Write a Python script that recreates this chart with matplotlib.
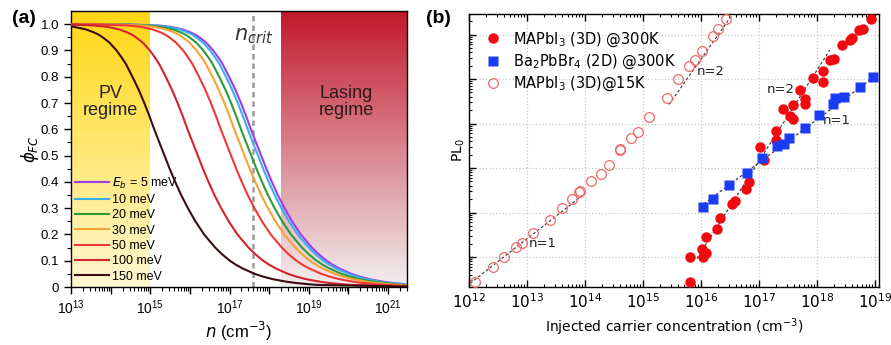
import matplotlib.pyplot as plt
import numpy as np
from matplotlib.colors import to_rgb
from matplotlib.ticker import FixedLocator, FuncFormatter, LogLocator, NullFormatter

plt.rcParams['font.family'] = ['Liberation Sans', 'DejaVu Sans']
plt.rcParams['mathtext.fontset'] = 'dejavusans'

# ---- panel (a): free carrier fraction vs n ----
phi_levels = [0.9995, 0.999, 0.995, 0.99, 0.98, 0.97, 0.96, 0.95, 0.93, 0.90, 0.875, 0.85, 0.80,
              0.75, 0.70, 0.65, 0.60, 0.55, 0.50, 0.45, 0.40, 0.35, 0.30, 0.25, 0.20, 0.15,
              0.125, 0.10, 0.085, 0.07, 0.05, 0.04, 0.03, 0.02, 0.015, 0.01, 0.008]
# log10(n) of each curve at the phi levels above
logn_5 = [14.20, 14.50, 15.20, 15.51, 15.82, 16.00, 16.14, 16.24, 16.41, 16.59, 16.71, 16.82, 16.99,
          17.15, 17.29, 17.42, 17.54, 17.67, 17.80, 17.93, 18.07, 18.22, 18.39, 18.58, 18.80, 19.08,
          19.25, 19.45, 19.60, 19.78, 20.08, 20.28, 20.53, 20.89, 21.14, 21.49, 21.69]
logn_10 = [14.12, 14.42, 15.12, 15.43, 15.74, 15.92, 16.06, 16.16, 16.33, 16.51, 16.63, 16.74, 16.91,
           17.07, 17.21, 17.34, 17.46, 17.59, 17.72, 17.85, 17.99, 18.14, 18.31, 18.50, 18.72, 19.00,
           19.17, 19.37, 19.52, 19.70, 20.00, 20.20, 20.45, 20.81, 21.06, 21.41, 21.61]
logn_20 = [13.95, 14.25, 14.95, 15.26, 15.57, 15.75, 15.89, 15.99, 16.16, 16.34, 16.46, 16.57, 16.74,
           16.90, 17.04, 17.17, 17.29, 17.42, 17.55, 17.68, 17.82, 17.97, 18.14, 18.33, 18.55, 18.83,
           19.00, 19.20, 19.35, 19.53, 19.83, 20.03, 20.28, 20.64, 20.89, 21.24, 21.44]
logn_30 = [13.78, 14.08, 14.78, 15.09, 15.40, 15.58, 15.72, 15.82, 15.99, 16.17, 16.29, 16.40, 16.57,
           16.73, 16.87, 17.00, 17.12, 17.25, 17.38, 17.51, 17.65, 17.80, 17.97, 18.16, 18.38, 18.66,
           18.83, 19.03, 19.18, 19.36, 19.66, 19.86, 20.11, 20.47, 20.72, 21.07, 21.27]
logn_50 = [13.44, 13.74, 14.44, 14.75, 15.06, 15.24, 15.38, 15.48, 15.65, 15.83, 15.95, 16.06, 16.23,
           16.39, 16.53, 16.66, 16.78, 16.91, 17.04, 17.17, 17.31, 17.46, 17.63, 17.82, 18.04, 18.32,
           18.49, 18.69, 18.84, 19.02, 19.32, 19.52, 19.77, 20.13, 20.38, 20.73, 20.93]
logn_100 = [12.60, 12.90, 13.60, 13.91, 14.22, 14.40, 14.54, 14.64, 14.81, 14.99, 15.11, 15.22, 15.39,
            15.55, 15.69, 15.82, 15.94, 16.07, 16.20, 16.33, 16.47, 16.62, 16.79, 16.98, 17.20, 17.48,
            17.65, 17.85, 18.00, 18.18, 18.48, 18.68, 18.93, 19.29, 19.54, 19.89, 20.09]
logn_150 = [11.76, 12.06, 12.76, 13.07, 13.38, 13.56, 13.70, 13.80, 13.97, 14.15, 14.27, 14.38, 14.55,
            14.71, 14.85, 14.98, 15.10, 15.23, 15.36, 15.49, 15.63, 15.78, 15.95, 16.14, 16.36, 16.64,
            16.81, 17.01, 17.16, 17.34, 17.64, 17.84, 18.09, 18.45, 18.70, 19.05, 19.25]

curve_labels = [r'$E_b$ = 5 meV', '10 meV', '20 meV', '30 meV', '50 meV', '100 meV', '150 meV']
curve_colors = ['#9b3cf0', '#3daee9', '#2e9a3a', '#f7a234', '#f03838', '#d2232e', '#3c0c10']
curves = [logn_5, logn_10, logn_20, logn_30, logn_50, logn_100, logn_150]

pv_range = [1e13, 1e15]
lasing_start = 10**18.31
n_crit = 10**17.60

# ---- panel (b): PL vs injected carriers (log10 values) ----
ox_15K = [12.10, 12.41, 12.61, 12.81, 12.91, 13.11, 13.40, 13.61, 13.77, 13.89, 13.92, 14.10, 14.27, 14.41,
          14.60, 14.60, 14.80, 14.91, 15.10, 15.41, 15.61, 15.79, 15.90, 16.01, 16.20, 16.30, 16.44]
oy_15K = [0.45, 0.77, 1.01, 1.22, 1.32, 1.53, 1.84, 2.11, 2.30, 2.46, 2.49, 2.71, 2.86, 3.06,
          3.40, 3.44, 3.68, 3.81, 4.15, 4.58, 5.00, 5.30, 5.44, 5.63, 5.96, 6.13, 6.34]
rx_300K = [15.81, 15.81, 16.02, 16.03, 16.09, 16.09, 16.27, 16.32, 16.53, 16.59, 16.78, 16.82, 17.02, 17.09,
           17.29, 17.29, 17.42, 17.53, 17.59, 17.58, 17.71, 17.80, 17.80, 17.93, 18.10, 18.10, 18.23, 18.29,
           18.43, 18.57, 18.60, 18.72, 18.80, 18.93]
ry_300K = [0.45, 1.01, 1.19, 1.01, 1.08, 1.44, 1.64, 1.88, 2.19, 2.26, 2.54, 2.69, 3.48, 3.18,
           3.84, 3.63, 4.32, 4.17, 4.11, 4.41, 4.75, 4.56, 4.43, 5.03, 4.94, 5.18, 5.42, 5.46,
           5.76, 5.89, 5.93, 6.10, 6.13, 6.36]
bx_2D = [16.04, 16.21, 16.49, 16.80, 17.06, 17.32, 17.44, 17.52, 17.79, 18.04, 18.28, 18.31, 18.46, 18.75, 18.97]
by_2D = [2.12, 2.30, 2.63, 2.90, 3.22, 3.50, 3.54, 3.68, 3.90, 4.19, 4.43, 4.58, 4.60, 4.82, 5.05]

# dashed power-law guides: (x0, x1), (y0, y1) in log10
fits = [([12.02, 14.00], [0.41, 2.43]),
        ([15.45, 16.53], [4.43, 6.43]),
        ([15.98, 19.00], [2.13, 5.06]),
        ([15.93, 18.22], [0.97, 5.65])]
fit_texts = [('n=1', 13.28, 1.31), ('n=2', 16.17, 5.16), ('n=2', 17.38, 4.77), ('n=1', 18.34, 4.06)]


def gradient_span(ax, x0, x1, top, bottom, steps=120):
    top, bottom = np.array(to_rgb(top)), np.array(to_rgb(bottom))
    for i in range(steps):
        f = (i + 0.5) / steps
        c = bottom + (top - bottom) * f
        ax.axvspan(x0, x1, ymin=i / steps, ymax=(i + 1) / steps, color=c, lw=0, zorder=0)


fig = plt.figure(figsize=(8.91, 3.45), dpi=100)

# ------------------ (a) ------------------
ax = fig.add_axes([0.0797, 0.168, 0.3771, 0.800])
ax.set_xscale('log')
ax.set_xlim(1e13, 10**21.48)
ax.set_ylim(0, 1.05)

gradient_span(ax, pv_range[0], pv_range[1], '#ffd612', '#fff7d2')
gradient_span(ax, lasing_start, 10**21.48, '#c2182c', '#f1eff0')

for xs, col, lab in zip(curves, curve_colors, curve_labels):
    x = 10 ** np.concatenate([[11.5], xs, [22.0]])
    y = np.concatenate([[1.0], phi_levels, [0.0]])
    ax.plot(x, y, color=col, lw=1.5, label=lab, zorder=3)

ax.axvline(n_crit, color='#9a9a9a', lw=1.8, ls=(0, (2.2, 1.6)), zorder=2)
ax.text(10**17.62, 0.955, r'$n_{crit}$', fontsize=15, color='#333333', ha='center', va='center')
ax.text(10**14.0, 0.705, 'PV\nregime', fontsize=13, ha='center', va='center',
        color='#222222', linespacing=1.0)
ax.text(10**19.95, 0.705, 'Lasing\nregime', fontsize=13, ha='center', va='center',
        color='#2a1a1c', linespacing=1.0)

ax.xaxis.set_major_locator(LogLocator(base=10, numticks=20))
ax.xaxis.set_minor_locator(LogLocator(base=10, subs=np.arange(2, 10), numticks=20))
ax.xaxis.set_minor_formatter(NullFormatter())
ax.xaxis.set_major_formatter(FuncFormatter(
    lambda v, p: r'$\mathdefault{10^{%d}}$' % round(np.log10(v)) if round(np.log10(v)) % 2 == 1 else ''))
ax.yaxis.set_major_locator(FixedLocator(np.arange(0, 1.01, 0.1)))
ax.yaxis.set_minor_locator(FixedLocator(np.arange(0.05, 1.05, 0.1)))
ax.yaxis.set_major_formatter(FuncFormatter(lambda v, p: '0' if abs(v) < 1e-9 else '%.1f' % v))
ax.tick_params(axis='both', which='major', length=5, width=1, labelsize=9.5, direction='out')
ax.tick_params(axis='both', which='minor', length=3, width=0.8, direction='out')
ax.tick_params(axis='x', labelsize=10)
for s in ax.spines.values():
    s.set_linewidth(1.0)
ax.set_xlabel(r'$n$ (cm$^{-3}$)', fontsize=12, labelpad=2)
ax.set_ylabel(r'$\phi_{FC}$', fontsize=12, labelpad=0)
ax.legend(loc='upper left', bbox_to_anchor=(0.0, 0.418), frameon=False, fontsize=9,
          handlelength=2.7, handletextpad=0.3, labelspacing=0.27, borderpad=0.2, borderaxespad=0.1)

fig.text(0.013, 0.945, '(a)', fontsize=14, fontweight='bold', va='center')

# ------------------ (b) ------------------
bf = 'DejaVu Sans'
bx = fig.add_axes([0.5264, 0.168, 0.4601, 0.791])
bx.set_xscale('log')
bx.set_yscale('log')
bx.set_xlim(1e12, 10**19.07)
bx.set_ylim(10**0.326, 10**6.46)
bx.grid(True, which='major', color='#c8c8c8', ls=':', lw=0.9)
bx.set_axisbelow(True)

for (fx, fy) in fits:
    bx.plot(10 ** np.array(fx), 10 ** np.array(fy), color='#333333', lw=0.8, ls=(0, (2.5, 2)), zorder=2)

bx.plot(10 ** np.array(rx_300K), 10 ** np.array(ry_300K), 'o', color='#f2080f', ms=7.5, mec='none',
        label=r'MAPbI$_3$ (3D) @300K', zorder=3)
bx.plot(10 ** np.array(bx_2D), 10 ** np.array(by_2D), 's', color='#1a3cf5', ms=7, mec='none',
        label=r'Ba$_2$PbBr$_4$ (2D) @300K', zorder=4)
bx.plot(10 ** np.array(ox_15K), 10 ** np.array(oy_15K), 'o', mfc='none', mec='#f06a6a', mew=0.9,
        ms=7, label=r'MAPbI$_3$ (3D)@15K', zorder=3)

for t, lx, ly in fit_texts:
    bx.text(10**lx, 10**ly, t, fontsize=9.5, family=bf, ha='center', va='center', color='#222222')

bx.xaxis.set_major_locator(LogLocator(base=10, numticks=20))
bx.xaxis.set_minor_locator(LogLocator(base=10, subs=np.arange(2, 10), numticks=20))
bx.xaxis.set_minor_formatter(NullFormatter())
bx.yaxis.set_major_locator(LogLocator(base=10, numticks=20))
bx.yaxis.set_minor_locator(LogLocator(base=10, subs=np.arange(2, 10), numticks=20))
bx.yaxis.set_major_formatter(NullFormatter())
bx.yaxis.set_minor_formatter(NullFormatter())
bx.tick_params(axis='both', which='major', direction='in', length=5, width=1, top=True, right=False)
bx.tick_params(axis='both', which='minor', direction='in', length=2.5, width=0.8, top=True, right=False)
bx.tick_params(axis='x', labelsize=11, pad=4)
for lab in bx.get_xticklabels():
    lab.set_family(bf)
for s in bx.spines.values():
    s.set_linewidth(1.0)
bx.set_xlabel(r'Injected carrier concentration (cm$^{-3}$)', fontsize=10, family=bf, labelpad=4)
bx.set_ylabel(r'PL$_0$', fontsize=10, family=bf, labelpad=-2)
bx.legend(loc='upper left', bbox_to_anchor=(0.012, 0.978), frameon=False, prop={'family': bf, 'size': 10.5},
          handletextpad=0.8, labelspacing=0.25, borderpad=0.2, handlelength=1.2)

fig.text(0.478, 0.945, '(b)', fontsize=14, fontweight='bold', va='center')

fig.savefig('out.png', dpi=100)
